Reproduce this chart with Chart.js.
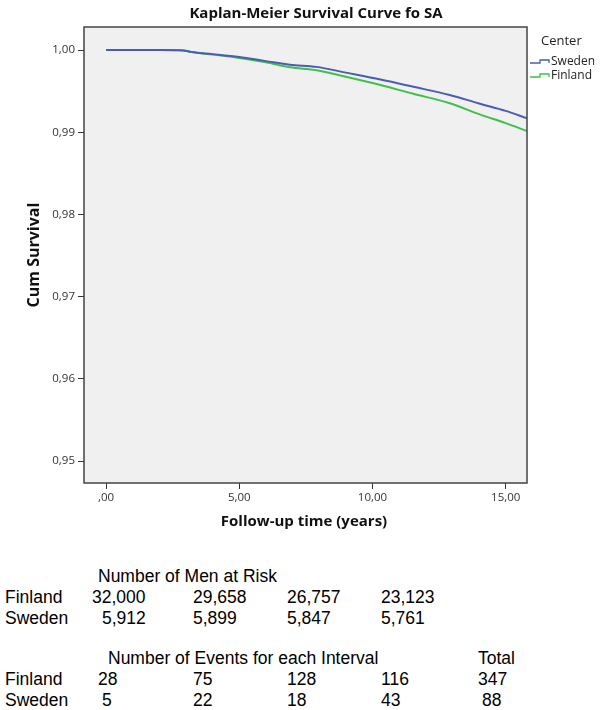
<!DOCTYPE html>
<html>
<head>
<meta charset="utf-8">
<script src="https://cdn.jsdelivr.net/npm/chart.js@4"></script>
<style>
  body { margin: 0; background: #fff; }
  #wrap { position: relative; width: 604px; height: 710px; }
  #chart { position: absolute; left: 0; top: 0; }
  .cell { position: absolute; font-family: "Liberation Sans", Arial, sans-serif; font-size: 17.5px; color: #000; line-height: 20px; white-space: nowrap; }
</style>
</head>
<body>
<div id="wrap">
  <canvas id="chart" width="604" height="540"></canvas>
</div>
<script>
// follow-up time (years) and cumulative survival
const followUpYears = [0, 1, 2, 2.9, 3.2, 4, 5, 6, 6.9, 7.9, 9, 10.3, 11.5, 12.9, 14, 15, 15.8];
const swedenSurvival = [1.0, 1.0, 1.0, 0.99995, 0.99975, 0.9995, 0.99915, 0.99865, 0.99821, 0.99795, 0.99725, 0.99641, 0.99555, 0.99453, 0.9935, 0.9926, 0.9917];
const finlandSurvival = [1.0, 1.0, 1.0, 0.99995, 0.99975, 0.99945, 0.99903, 0.9985, 0.9979, 0.99755, 0.99675, 0.99574, 0.9947, 0.99352, 0.9922, 0.9911, 0.99015];

const yTicks = [0.95, 0.96, 0.97, 0.98, 0.99, 1.0];
const yTickLabels = ["0,95", "0,96", "0,97", "0,98", "0,99", "1,00"];
const xTicks = [0, 5, 10, 15];
const xTickLabels = [",00", "5,00", "10,00", "15,00"];

const centers = ["Sweden", "Finland"];
const atRiskFinland = ["32,000", "29,658", "26,757", "23,123"];
const atRiskSweden = ["5,912", "5,899", "5,847", "5,761"];
const eventsFinland = ["28", "75", "128", "116"];
const eventsSweden = ["5", "22", "18", "43"];
const totalFinland = "347";
const totalSweden = "88";

const BLUE = "#4a5cb4";
const GREEN = "#3fc04b";

function toPoints(xs, ys) {
  return xs.map((x, i) => ({ x, y: ys[i] }));
}

const frame = {
  id: "frame",
  beforeDraw(chart) {
    const { ctx, chartArea: a } = chart;
    ctx.save();
    ctx.fillStyle = "#f0f0f0";
    ctx.fillRect(a.left, a.top, a.right - a.left, a.bottom - a.top);
    ctx.restore();
  },
  afterDraw(chart) {
    const { ctx, chartArea: a } = chart;
    ctx.save();
    ctx.strokeStyle = "#444";
    ctx.lineWidth = 1.5;
    ctx.strokeRect(a.left, a.top, a.right - a.left, a.bottom - a.top);

    ctx.fillStyle = "#111";
    ctx.textAlign = "center";
    ctx.textBaseline = "middle";
    ctx.font = "bold 15px 'Open Sans'";
    ctx.fillText("Kaplan-Meier Survival Curve fo SA", 316, 14);
    ctx.font = "bold 15px 'Open Sans'";
    ctx.fillText("Follow-up time (years)", 304, 522);
    ctx.translate(34, 255);
    ctx.rotate(-Math.PI / 2);
    ctx.font = "bold 16px 'Open Sans'";
    ctx.fillText("Cum Survival", 0, 0);
    ctx.restore();

    // legend
    ctx.save();
    ctx.fillStyle = "#222";
    ctx.textBaseline = "middle";
    ctx.font = "13px 'Open Sans'";
    ctx.fillText("Center", 541, 41);
    ctx.font = "12px 'Open Sans'";
    const colors = [BLUE, GREEN];
    centers.forEach((name, i) => {
      const y = 62 + i * 14;
      ctx.strokeStyle = colors[i];
      ctx.lineWidth = 1.3;
      ctx.beginPath();
      ctx.moveTo(530, y + 1);
      ctx.lineTo(540, y + 1);
      ctx.lineTo(540, y - 2);
      ctx.lineTo(549, y - 2);
      ctx.lineTo(549, y + 1);
      ctx.stroke();
      ctx.fillText(name, 551, y);
    });
    ctx.restore();
  }
};

new Chart(document.getElementById("chart"), {
  type: "line",
  data: {
    datasets: [
      { label: "Sweden", data: toPoints(followUpYears, swedenSurvival), borderColor: BLUE, borderWidth: 2, pointRadius: 0, tension: 0.3, cubicInterpolationMode: "monotone" },
      { label: "Finland", data: toPoints(followUpYears, finlandSurvival), borderColor: GREEN, borderWidth: 2, pointRadius: 0, tension: 0.3, cubicInterpolationMode: "monotone" },
    ],
  },
  options: {
    responsive: false,
    animation: false,
    layout: { padding: { top: 27, right: 77, left: 0, bottom: 0 } },
    plugins: { legend: { display: false }, tooltip: { enabled: false } },
    scales: {
      x: {
        type: "linear",
        min: -0.83,
        max: 15.8,
        afterBuildTicks: s => { s.ticks = xTicks.map(v => ({ value: v })); },
        afterFit: s => { s.height = 57; },
        ticks: {
          callback: (v) => xTickLabels[xTicks.indexOf(v)],
          font: { family: "Open Sans", size: 11.5 },
          color: "#333",
          padding: 2,
          maxRotation: 0,
        },
        grid: { drawOnChartArea: false, color: "#333", tickLength: 6 },
        border: { display: false },
      },
      y: {
        min: 0.94733,
        max: 1.0028,
        afterBuildTicks: s => { s.ticks = yTicks.map(v => ({ value: v })); },
        afterFit: s => { s.width = 84; },
        ticks: {
          callback: (v) => yTickLabels[yTicks.findIndex(t => Math.abs(t - v) < 1e-9)],
          font: { family: "Open Sans", size: 11.5 },
          color: "#333",
          padding: 3,
        },
        grid: { drawOnChartArea: false, color: "#333", tickLength: 6 },
        border: { display: false },
      },
    },
  },
  plugins: [frame],
});

// tables under the chart
const wrap = document.getElementById("wrap");
function cell(text, x, yCenter) {
  const el = document.createElement("div");
  el.className = "cell";
  el.textContent = text;
  el.style.left = x + "px";
  el.style.top = (yCenter - 10) + "px";
  wrap.appendChild(el);
}
const colX = [193, 287, 381];
cell("Number of Men at Risk", 98, 576);
cell("Finland", 5, 597);
cell("Sweden", 5, 618);
cell(atRiskFinland[0], 92, 597);
cell(atRiskSweden[0], 102, 618);
colX.forEach((x, i) => {
  cell(atRiskFinland[i + 1], x, 597);
  cell(atRiskSweden[i + 1], x, 618);
});
cell("Number of Events for each Interval", 108, 658);
cell("Total", 478, 658);
cell("Finland", 5, 679);
cell("Sweden", 5, 700);
cell(eventsFinland[0], 98, 679);
cell(eventsSweden[0], 102, 700);
colX.forEach((x, i) => {
  cell(eventsFinland[i + 1], x, 679);
  cell(eventsSweden[i + 1], x, 700);
});
cell(totalFinland, 478, 679);
cell(totalSweden, 482, 700);
</script>
</body>
</html>
